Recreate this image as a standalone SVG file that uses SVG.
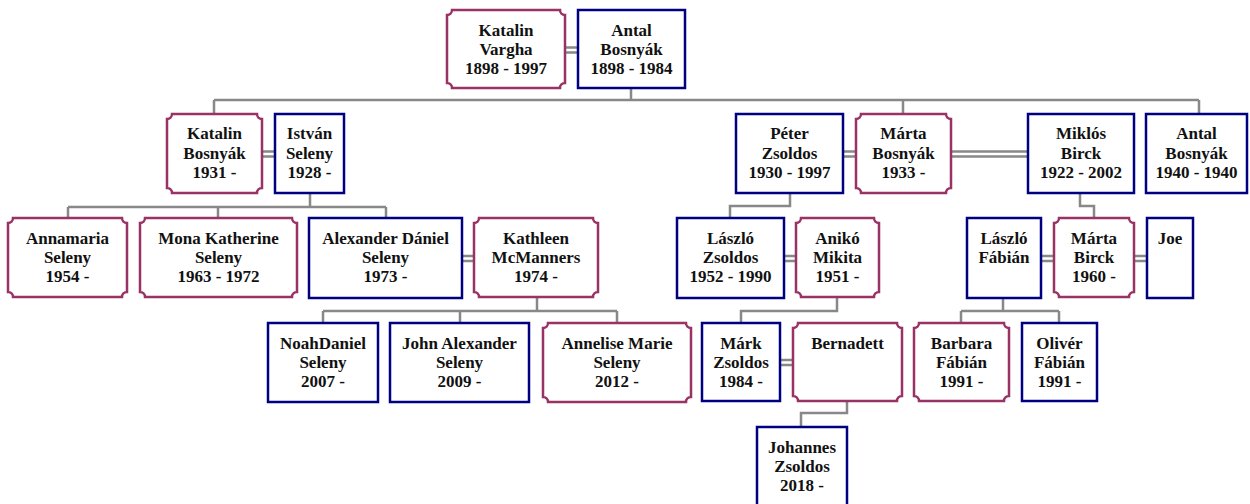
<svg xmlns="http://www.w3.org/2000/svg" width="1250" height="504" viewBox="0 0 1250 504" font-family="Liberation Serif, Times New Roman, serif" font-weight="bold" font-size="17">
  <style>
    .m { fill: #ffffff; stroke: #000080; stroke-width: 2.5; }
    .f { fill: #ffffff; stroke: #993366; stroke-width: 2.5; }
    .ln { fill: none; stroke: #888888; stroke-width: 2.5; }
    text { font-family: "Liberation Serif", "Times New Roman", serif; font-weight: bold; font-size: 17px; fill: #111111; text-anchor: middle; }
  </style>

  <!-- connectors: spouse double lines and descent lines -->
  <g id="connectors" class="ln">
    <!-- spouses -->
    <path d="M565,47.5H578M565,52.5H578"/>
    <path d="M262,151.5H275M262,156.5H275"/>
    <path d="M843,151.5H856M843,156.5H856"/>
    <path d="M951,151.5H1028M951,156.5H1028"/>
    <path d="M462,256H474M462,261H474"/>
    <path d="M784,256H796M784,261H796"/>
    <path d="M1041,256H1054M1041,261H1054"/>
    <path d="M1134,256H1147M1134,261H1147"/>
    <path d="M780,360H793M780,365H793"/>
    <!-- descent -->
    <path d="M631,88V100M214,100H1199M214,100V114M903,100V114M1199,100V114"/>
    <path d="M310,193V207M68,207H386M68,207V218M218,207V218M386,207V218"/>
    <path d="M790,193V206H730V218"/>
    <path d="M1080,193V206H1094V218"/>
    <path d="M537,297V311M323,311H617M323,311V323M460,311V323M617,311V323"/>
    <path d="M837,297V311H741V323"/>
    <path d="M1003,298V311M961,311H1059M961,311V323M1059,311V323"/>
    <path d="M847,401V413H801V427"/>
  </g>

  <!-- generation 1 -->
  <g id="katalin-vargha">
    <path class="f" d="M452,10H560A5,5 0 0 0 565,15V83A5,5 0 0 0 560,88H452A5,5 0 0 0 447,83V15A5,5 0 0 0 452,10Z"/>
    <text x="506" y="36">Katalin</text><text x="506" y="55">Vargha</text><text x="506" y="74">1898 - 1997</text>
  </g>
  <g id="antal-bosnyak-1898">
    <rect class="m" x="578" y="10" width="107" height="78"/>
    <text x="631.5" y="36">Antal</text><text x="631.5" y="55">Bosnyák</text><text x="631.5" y="74">1898 - 1984</text>
  </g>

  <!-- generation 2 -->
  <g id="katalin-bosnyak">
    <path class="f" d="M172,114H257A5,5 0 0 0 262,119V188A5,5 0 0 0 257,193H172A5,5 0 0 0 167,188V119A5,5 0 0 0 172,114Z"/>
    <text x="214.5" y="139">Katalin</text><text x="214.5" y="159">Bosnyák</text><text x="214.5" y="178">1931 -</text>
  </g>
  <g id="istvan-seleny">
    <rect class="m" x="275" y="114" width="69" height="79"/>
    <text x="309.5" y="139">István</text><text x="309.5" y="159">Seleny</text><text x="309.5" y="178">1928 -</text>
  </g>
  <g id="peter-zsoldos">
    <rect class="m" x="736" y="114" width="107" height="79"/>
    <text x="789.5" y="139">Péter</text><text x="789.5" y="159">Zsoldos</text><text x="789.5" y="178">1930 - 1997</text>
  </g>
  <g id="marta-bosnyak">
    <path class="f" d="M861,114H946A5,5 0 0 0 951,119V188A5,5 0 0 0 946,193H861A5,5 0 0 0 856,188V119A5,5 0 0 0 861,114Z"/>
    <text x="903.5" y="139">Márta</text><text x="903.5" y="159">Bosnyák</text><text x="903.5" y="178">1933 -</text>
  </g>
  <g id="miklos-birck">
    <rect class="m" x="1028" y="114" width="106" height="79"/>
    <text x="1081" y="139">Miklós</text><text x="1081" y="159">Birck</text><text x="1081" y="178">1922 - 2002</text>
  </g>
  <g id="antal-bosnyak-1940">
    <rect class="m" x="1146" y="114" width="101" height="79"/>
    <text x="1196.5" y="139">Antal</text><text x="1196.5" y="159">Bosnyák</text><text x="1196.5" y="178">1940 - 1940</text>
  </g>

  <!-- generation 3 -->
  <g id="annamaria-seleny">
    <path class="f" d="M13,218H122A5,5 0 0 0 127,223V292A5,5 0 0 0 122,297H13A5,5 0 0 0 8,292V223A5,5 0 0 0 13,218Z"/>
    <text x="67.5" y="244">Annamaria</text><text x="67.5" y="263">Seleny</text><text x="67.5" y="282">1954 -</text>
  </g>
  <g id="mona-katherine-seleny">
    <path class="f" d="M145,218H292A5,5 0 0 0 297,223V292A5,5 0 0 0 292,297H145A5,5 0 0 0 140,292V223A5,5 0 0 0 145,218Z"/>
    <text x="218.5" y="244">Mona Katherine</text><text x="218.5" y="263">Seleny</text><text x="218.5" y="282">1963 - 1972</text>
  </g>
  <g id="alexander-daniel-seleny">
    <rect class="m" x="309" y="218" width="153" height="80"/>
    <text x="385.5" y="244">Alexander Dániel</text><text x="385.5" y="263">Seleny</text><text x="385.5" y="282">1973 -</text>
  </g>
  <g id="kathleen-mcmanners">
    <path class="f" d="M479,218H593A5,5 0 0 0 598,223V292A5,5 0 0 0 593,297H479A5,5 0 0 0 474,292V223A5,5 0 0 0 479,218Z"/>
    <text x="536" y="244">Kathleen</text><text x="536" y="263">McManners</text><text x="536" y="282">1974 -</text>
  </g>
  <g id="laszlo-zsoldos">
    <rect class="m" x="677" y="218" width="107" height="80"/>
    <text x="730.5" y="244">László</text><text x="730.5" y="263">Zsoldos</text><text x="730.5" y="282">1952 - 1990</text>
  </g>
  <g id="aniko-mikita">
    <path class="f" d="M801,218H874A5,5 0 0 0 879,223V292A5,5 0 0 0 874,297H801A5,5 0 0 0 796,292V223A5,5 0 0 0 801,218Z"/>
    <text x="837.5" y="244">Anikó</text><text x="837.5" y="263">Mikita</text><text x="837.5" y="282">1951 -</text>
  </g>
  <g id="laszlo-fabian">
    <rect class="m" x="967" y="218" width="74" height="80"/>
    <text x="1004" y="244">László</text><text x="1004" y="263">Fábián</text>
  </g>
  <g id="marta-birck">
    <path class="f" d="M1059,218H1129A5,5 0 0 0 1134,223V292A5,5 0 0 0 1129,297H1059A5,5 0 0 0 1054,292V223A5,5 0 0 0 1059,218Z"/>
    <text x="1094" y="244">Márta</text><text x="1094" y="263">Birck</text><text x="1094" y="282">1960 -</text>
  </g>
  <g id="joe">
    <rect class="m" x="1147" y="218" width="46" height="80"/>
    <text x="1170" y="244">Joe</text>
  </g>

  <!-- generation 4 -->
  <g id="noahdaniel-seleny">
    <rect class="m" x="268" y="323" width="110" height="79"/>
    <text x="323" y="349">NoahDaniel</text><text x="323" y="368">Seleny</text><text x="323" y="387">2007 -</text>
  </g>
  <g id="john-alexander-seleny">
    <rect class="m" x="390" y="323" width="139" height="79"/>
    <text x="459.5" y="349">John Alexander</text><text x="459.5" y="368">Seleny</text><text x="459.5" y="387">2009 -</text>
  </g>
  <g id="annelise-marie-seleny">
    <path class="f" d="M548,323H686A5,5 0 0 0 691,328V397A5,5 0 0 0 686,402H548A5,5 0 0 0 543,397V328A5,5 0 0 0 548,323Z"/>
    <text x="617" y="349">Annelise Marie</text><text x="617" y="368">Seleny</text><text x="617" y="387">2012 -</text>
  </g>
  <g id="mark-zsoldos">
    <rect class="m" x="702" y="323" width="78" height="78"/>
    <text x="741" y="349">Márk</text><text x="741" y="368">Zsoldos</text><text x="741" y="387">1984 -</text>
  </g>
  <g id="bernadett">
    <path class="f" d="M798,323H897A5,5 0 0 0 902,328V396A5,5 0 0 0 897,401H798A5,5 0 0 0 793,396V328A5,5 0 0 0 798,323Z"/>
    <text x="847.5" y="349">Bernadett</text>
  </g>
  <g id="barbara-fabian">
    <path class="f" d="M919,323H1004A5,5 0 0 0 1009,328V396A5,5 0 0 0 1004,401H919A5,5 0 0 0 914,396V328A5,5 0 0 0 919,323Z"/>
    <text x="961.5" y="349">Barbara</text><text x="961.5" y="368">Fábián</text><text x="961.5" y="387">1991 -</text>
  </g>
  <g id="oliver-fabian">
    <rect class="m" x="1022" y="323" width="75" height="78"/>
    <text x="1059.5" y="349">Olivér</text><text x="1059.5" y="368">Fábián</text><text x="1059.5" y="387">1991 -</text>
  </g>

  <!-- generation 5 -->
  <g id="johannes-zsoldos">
    <rect class="m" x="757" y="427" width="90" height="80"/>
    <text x="802" y="453">Johannes</text><text x="802" y="472">Zsoldos</text><text x="802" y="491">2018 -</text>
  </g>
</svg>
